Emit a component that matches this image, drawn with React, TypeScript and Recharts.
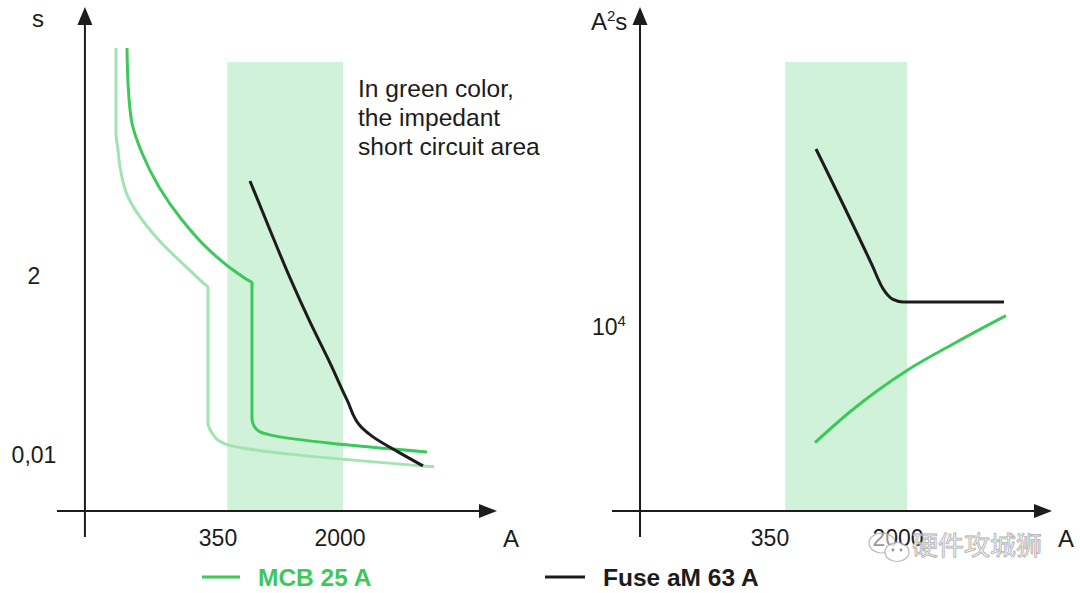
import React from 'react';
import { LineChart, Line, XAxis, YAxis, ReferenceArea, ReferenceLine } from 'recharts';

// ---- left panel: tripping time (s) vs current (A), both log ----
const mcbMinCurrent = [81.5, 81.5, 83.9, 86.3, 96.8, 114.8, 144.3, 278.4, 303.4, 303.4, 321.2, 349.9, 403.6, 7656];
const mcbMinTime = [1705, 137.7, 83.2, 50.4, 20.7, 11.47, 6.34, 1.675, 1.403, 0.02579, 0.01919, 0.0156, 0.01345, 0.00702];

const mcbMaxCurrent = [95.4, 96.8, 102.4, 118.2, 150.7, 209.3, 307.7, 409.5, 522.1, 568.6, 568.6, 585.1, 637.5, 735.4, 6927];
const mcbMaxTime = [1705, 605, 185.2, 76.2, 27.9, 10.49, 4.32, 2.61, 1.83, 1.626, 0.0299, 0.0236, 0.01977, 0.01808, 0.01093];

const fuseCurrent = [552.6, 735.4, 979, 1302, 1733, 2210, 2737, 3203, 4578, 6542];
const fuseTime = [33.3, 7.8, 1.885, 0.5126, 0.1523, 0.051, 0.02225, 0.01704, 0.01093, 0.00722];

// ---- right panel: let-through energy (A²s) vs current (A) ----
const fuseEnergyCurrent = [654.6, 1403, 1621, 1868, 2141, 8470];
const fuseEnergy = [77620, 20420, 15670, 13740, 13340, 13340];

const mcbEnergyCurrent = [645.8, 1054, 2307, 4345, 8700];
const mcbEnergy = [2642, 3802, 6131, 8318, 11390];

const currentTicks = [350, 2000];
const timeTicks = [0.01, 2];
const energyTicks = [10000];

const timeDomain = [0.00088, 5740];
const timeCurrentDomain = [35.1, 18830];
const energyDomain = [891, 398100];
const energyCurrentDomain = [40.7, 16280];

// impedant short circuit zone
const timeZone = { from: 400, to: 2090, top: 1130, bottom: 0.0019 };
const energyZone = { from: 430, to: 2260, top: 211300, bottom: 1202 };
const timeOrigin = { current: 52.3, time: 0.0019 };
const energyOrigin = { current: 59.6, energy: 1202 };

const zip = (xs: number[], ys: number[]) => xs.map((x, i) => ({ x, y: ys[i] }));

const GREEN = '#3cc95a';
const LIGHT_GREEN = '#a2e4b1';
const ZONE = '#cff2d9';
const INK = '#1c1c1c';
const FONT = '"Liberation Sans", Arial, sans-serif';

function ArrowLine(props: any) {
  const { x1, y1, x2, y2 } = props;
  if (Math.abs(y1 - y2) < 0.5) {
    const left = Math.min(x1, x2);
    const right = Math.max(x1, x2);
    return (
      <g>
        <line x1={left} y1={y1} x2={right - 14} y2={y1} stroke={INK} strokeWidth={2} />
        <polygon points={`${right},${y1} ${right - 18},${y1 - 7} ${right - 18},${y1 + 7}`} fill={INK} />
      </g>
    );
  }
  const top = Math.min(y1, y2);
  const bottom = Math.max(y1, y2);
  return (
    <g>
      <line x1={x1} y1={bottom} x2={x1} y2={top + 14} stroke={INK} strokeWidth={2} />
      <polygon points={`${x1},${top} ${x1 - 7.5},${top + 18} ${x1 + 7.5},${top + 18}`} fill={INK} />
    </g>
  );
}

function CurrentTick(props: any) {
  const { x, payload } = props;
  return (
    <text x={x} y={546} textAnchor="middle" fontSize={23} fill={INK} fontFamily={FONT}>
      {payload.value}
    </text>
  );
}

function TimeTick(props: any) {
  const { y, payload } = props;
  return (
    <text x={34} y={y} dy={8} textAnchor="middle" fontSize={23} fill={INK} fontFamily={FONT}>
      {String(payload.value).replace('.', ',')}
    </text>
  );
}

function EnergyTick(props: any) {
  const { y, payload } = props;
  const exp = Math.round(Math.log10(payload.value));
  return (
    <text x={52} y={y} dy={8} fontSize={23} fill={INK} fontFamily={FONT}>
      10
      <tspan dy={-9} fontSize={15}>{exp}</tspan>
    </text>
  );
}

function TimeChart() {
  return (
    <LineChart width={540} height={593} margin={{ top: 7, right: 43, bottom: 0, left: 0 }}>
      <XAxis
        type="number"
        dataKey="x"
        scale="log"
        domain={timeCurrentDomain}
        allowDataOverflow
        ticks={currentTicks}
        axisLine={false}
        tickLine={false}
        height={56}
        tick={<CurrentTick />}
      />
      <YAxis
        type="number"
        dataKey="y"
        scale="log"
        domain={timeDomain}
        allowDataOverflow
        ticks={timeTicks}
        axisLine={false}
        tickLine={false}
        width={57}
        tick={<TimeTick />}
      />
      <ReferenceArea
        x1={timeZone.from}
        x2={timeZone.to}
        y1={timeZone.bottom}
        y2={timeZone.top}
        fill={ZONE}
        fillOpacity={1}
        stroke="none"
      />
      <Line data={zip(mcbMinCurrent, mcbMinTime)} dataKey="y" type="monotoneY" stroke={LIGHT_GREEN} strokeWidth={3} dot={false} isAnimationActive={false} />
      <Line data={zip(mcbMaxCurrent, mcbMaxTime)} dataKey="y" type="monotoneY" stroke={GREEN} strokeWidth={3} dot={false} isAnimationActive={false} />
      <Line data={zip(fuseCurrent, fuseTime)} dataKey="y" type="monotoneY" stroke={INK} strokeWidth={3} dot={false} isAnimationActive={false} />
      <ReferenceLine y={timeOrigin.time} shape={<ArrowLine />} />
      <ReferenceLine x={timeOrigin.current} shape={<ArrowLine />} />
    </LineChart>
  );
}

function EnergyChart() {
  return (
    <LineChart width={540} height={593} margin={{ top: 7, right: 28, bottom: 0, left: 0 }}>
      <XAxis
        type="number"
        dataKey="x"
        scale="log"
        domain={energyCurrentDomain}
        allowDataOverflow
        ticks={currentTicks}
        axisLine={false}
        tickLine={false}
        height={56}
        tick={<CurrentTick />}
      />
      <YAxis
        type="number"
        dataKey="y"
        scale="log"
        domain={energyDomain}
        allowDataOverflow
        ticks={energyTicks}
        axisLine={false}
        tickLine={false}
        width={72}
        tick={<EnergyTick />}
      />
      <ReferenceArea
        x1={energyZone.from}
        x2={energyZone.to}
        y1={energyZone.bottom}
        y2={energyZone.top}
        fill={ZONE}
        fillOpacity={1}
        stroke="none"
      />
      <Line data={zip(fuseEnergyCurrent, fuseEnergy)} dataKey="y" type="monotoneX" stroke={INK} strokeWidth={3} dot={false} isAnimationActive={false} />
      <Line data={zip(mcbEnergyCurrent, mcbEnergy)} dataKey="y" type="monotoneX" stroke={GREEN} strokeWidth={3} dot={false} isAnimationActive={false} />
      <ReferenceLine y={energyOrigin.energy} shape={<ArrowLine />} />
      <ReferenceLine x={energyOrigin.current} shape={<ArrowLine />} />
    </LineChart>
  );
}

export default function App() {
  return (
    <div style={{ position: 'absolute', left: 0, top: 0, width: 1080, height: 593, background: '#fff', overflow: 'hidden' }}>
      <div style={{ position: 'absolute', left: 0, top: 0 }}>
        <TimeChart />
      </div>
      <div style={{ position: 'absolute', left: 540, top: 0 }}>
        <EnergyChart />
      </div>
      <svg width={1080} height={593} style={{ position: 'absolute', left: 0, top: 0, pointerEvents: 'none' }} fontFamily={FONT}>
        <text x={38} y={27} textAnchor="middle" fontSize={24} fill={INK}>s</text>
        <text x={511} y={547} textAnchor="middle" fontSize={24} fill={INK}>A</text>
        <text x={591} y={30} fontSize={24} fill={INK}>
          A<tspan dy={-9} fontSize={15}>2</tspan><tspan dy={9}>s</tspan>
        </text>
        <text x={1066} y={547} textAnchor="middle" fontSize={24} fill={INK}>A</text>
        <text x={358} fontSize={24.6} fill={INK}>
          <tspan x={358} y={97}>In green color,</tspan>
          <tspan x={358} y={126}>the impedant</tspan>
          <tspan x={358} y={155}>short circuit area</tspan>
        </text>
        <line x1={202} y1={577} x2={240} y2={577} stroke={GREEN} strokeWidth={3} />
        <text x={258} y={586} fontSize={24.5} fontWeight="bold" fill={GREEN}>MCB 25 A</text>
        <line x1={545} y1={577} x2={585} y2={577} stroke={INK} strokeWidth={3} />
        <text x={603} y={586} fontSize={24.5} fontWeight="bold" fill={INK}>Fuse aM 63 A</text>
        <g opacity={0.9}>
          <ellipse cx={882} cy={543} rx={13} ry={10} fill="#fff" fillOpacity={0.6} stroke="#b0b0b0" strokeWidth={1.2} />
          <ellipse cx={897} cy={552} rx={12} ry={9.5} fill="#fff" fillOpacity={0.8} stroke="#b0b0b0" strokeWidth={1.2} />
          <circle cx={893} cy={550} r={1.4} fill="#888" />
          <circle cx={901} cy={550} r={1.4} fill="#888" />
          <text x={912} y={555} fontSize={26} fontFamily='"Noto Sans CJK SC", sans-serif' fill="#f7f7f7" stroke="#a8a8a8" strokeWidth={0.8}>硬件攻城狮</text>
        </g>
      </svg>
    </div>
  );
}
